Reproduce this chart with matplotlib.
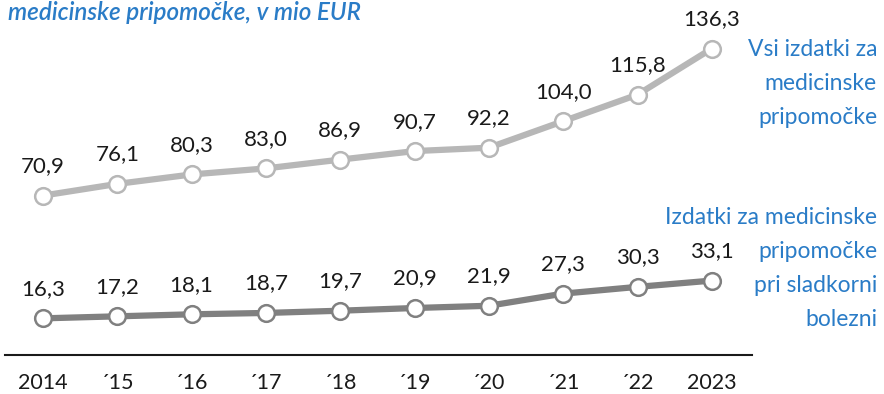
import numpy as np
import matplotlib.pyplot as plt

plt.rcParams['font.family'] = ['Lato', 'DejaVu Sans']

# izdatki za medicinske pripomočke, v mio EUR
leta = ["2014", "´15", "´16", "´17", "´18", "´19", "´20", "´21", "´22", "2023"]
vsi = [70.9, 76.1, 80.3, 83.0, 86.9, 90.7, 92.2, 104.0, 115.8, 136.3]
sladkorna = [16.3, 17.2, 18.1, 18.7, 19.7, 20.9, 21.9, 27.3, 30.3, 33.1]

opis_vsi = ["Vsi izdatki za", "medicinske", "pripomočke"]
opis_sladkorna = ["Izdatki za medicinske", "pripomočke", "pri sladkorni", "bolezni"]

modra = "#2a7cc7"
x = np.arange(len(leta))

fig = plt.figure(figsize=(8.84, 3.94), dpi=100)
ax = fig.add_axes([5 / 884, 39 / 394, 747 / 884, 335 / 394])

for y, barva in [(vsi, "#b7b7b7"), (sladkorna, "#808080")]:
    ax.plot(x, y, color=barva, lw=4.5, marker="o", ms=12,
            mfc="white", mec=barva, mew=1.8, solid_capstyle="butt", zorder=3)
    for xi, yi in zip(x, y):
        ax.annotate(f"{yi:.1f}".replace(".", ","), (xi, yi), xytext=(0, 14),
                    textcoords="offset points", ha="center", va="bottom",
                    fontsize=16, color="#1a1a1a")

ax.set_xlim(-0.511, 9.54)
ax.set_ylim(0, 149)
ax.set_yticks([])
ax.set_xticks(x)
ax.set_xticklabels(leta, fontsize=15.5, color="#1a1a1a")
ax.tick_params(axis="x", length=0, pad=13)
for s in ["top", "right", "left"]:
    ax.spines[s].set_visible(False)
ax.spines["bottom"].set_linewidth(1.5)
ax.spines["bottom"].set_color("#1a1a1a")

fig.text(8 / 884, 1 - 13 / 394, "medicinske pripomočke, v mio EUR",
         fontsize=17.5, color=modra, style="italic", weight="semibold",
         va="center", ha="left")

# opisi serij desno, vsaka vrstica posebej
for vrstice, zacetek in [(opis_vsi, 49), (opis_sladkorna, 218)]:
    for i, v in enumerate(vrstice):
        fig.text(877 / 884, 1 - (zacetek + 34 * i) / 394, v,
                 fontsize=16.5, color=modra, ha="right", va="center")

fig.savefig("out.png", dpi=100)
